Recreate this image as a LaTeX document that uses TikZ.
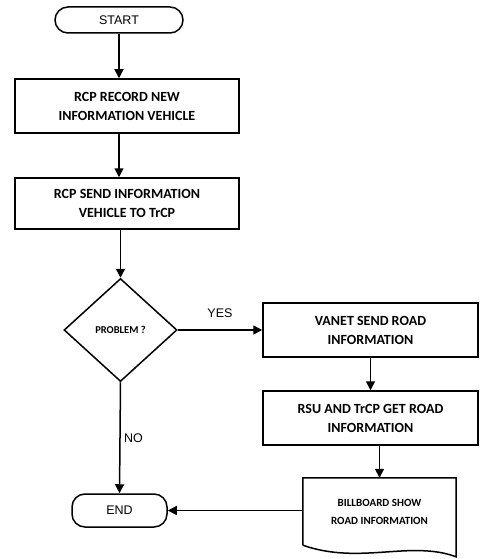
\documentclass[tikz,border=0pt]{standalone}
\usepackage{fontspec}
\setmainfont{Liberation Sans}
\newfontfamily\boxfont{Carlito}
\usetikzlibrary{shapes.geometric, arrows.meta}
\tikzstyle{startstop} = [rectangle, rounded corners=13pt, minimum width=128pt, minimum height=26pt, text centered, draw=black, line width=1.5pt, font=\fontsize{12.5}{15}\selectfont]
\tikzstyle{process} = [rectangle, minimum width=224pt, minimum height=54pt, text centered, align=center, draw=black, line width=1.5pt, font=\boxfont\bfseries\fontsize{14}{19}\selectfont]
\tikzstyle{decision} = [diamond, minimum width=113pt, minimum height=103pt, text centered, draw=black, line width=1.5pt, font=\boxfont\bfseries\fontsize{10.5}{12}\selectfont]
\tikzstyle{document} = [rectangle, minimum width=153pt, minimum height=67pt, text centered, align=center, font=\boxfont\bfseries\fontsize{11}{18}\selectfont]
\tikzstyle{arrow} = [line width=1.5pt,-{Triangle[length=9pt,width=9pt]}]
\tikzstyle{answer} = [font=\fontsize{12.5}{15}\selectfont]

\begin{document}
\begin{tikzpicture}[node distance=90pt]
\useasboundingbox (0pt,0pt) rectangle (480pt,-559pt);
\node (start) [startstop] at (119pt,-20pt) {START};
\node (rec) [process, below of=start, yshift=4pt, xshift=8pt] {RCP RECORD NEW\\INFORMATION VEHICLE};
\node (send) [process, below of=rec, yshift=-7.5pt, minimum height=51pt] {RCP SEND INFORMATION\\VEHICLE TO TrCP};
\node (dec) [decision, below of=send, yshift=-36.5pt, xshift=-6.5pt] {PROBLEM ?};
\node (vanet) [process, right of=dec, xshift=160pt, minimum width=215pt] {VANET SEND ROAD\\INFORMATION};
\node (rsu) [process, below of=vanet, yshift=2pt, minimum width=215pt] {RSU AND TrCP GET ROAD\\INFORMATION};
\node (bill) [document, below of=rsu, yshift=-3.5pt, xshift=9pt] {BILLBOARD SHOW\\ROAD INFORMATION};
\node (end) [startstop, below of=dec, yshift=-90.5pt, xshift=-1pt, minimum width=95pt, minimum height=33pt] {END};

% billboard outline with wavy bottom
\draw [line width=1.5pt] (bill.south west) -- (bill.north west) -- (bill.north east) -- ++(0,-79pt)
  .. controls +(-46pt,17pt) and +(57pt,-20pt) .. (bill.south west);

\draw [arrow] (start) -- (start |- rec.north);
\draw [arrow] (rec.south -| start) -- (send.north -| start);
\draw [arrow] (send.south -| dec) -- (dec.north);
\draw [arrow] (dec.east) -- node[answer, anchor=south, yshift=8pt] {YES} (vanet.west);
\draw [arrow] (vanet) -- (rsu);
\draw [arrow] (rsu.south -| bill) -- (bill.north);
\draw [arrow] (dec.south) -- node[answer, anchor=west] {NO} (end.north);
\draw [arrow] (end -| bill.west) -- (end.east);

\end{tikzpicture}
\end{document}
